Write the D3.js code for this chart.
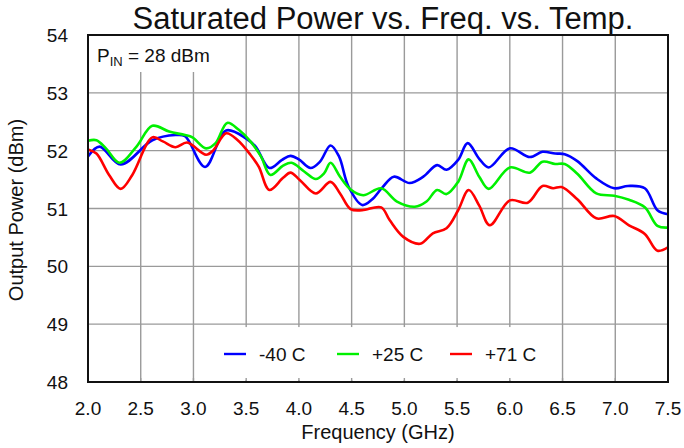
<!DOCTYPE html>
<html>
<head>
<meta charset="utf-8">
<script src="https://cdn.jsdelivr.net/npm/d3@7"></script>
<style>
  body { margin: 0; background: #fff; }
  svg text { font-family: "Liberation Sans", Arial, sans-serif; fill: #111; }
</style>
</head>
<body>
<svg id="chart" width="684" height="448"></svg>
<script>
// data
var xTicks = [2.0, 2.5, 3.0, 3.5, 4.0, 4.5, 5.0, 5.5, 6.0, 6.5, 7.0, 7.5];
var yTicks = [48, 49, 50, 51, 52, 53, 54];

var freqCold = [2.0, 2.11, 2.31, 2.61, 2.83, 2.92, 3.11, 3.31, 3.50, 3.59, 3.72, 3.84, 3.92, 4.0, 4.11, 4.20, 4.30, 4.38, 4.47, 4.60, 4.69, 4.79, 4.90, 5.05, 5.18, 5.31, 5.40, 5.51, 5.60, 5.71, 5.80, 6.0, 6.19, 6.31, 6.43, 6.52, 6.64, 6.82, 6.99, 7.12, 7.28, 7.40, 7.50];
var powerCold = [51.90, 52.07, 51.76, 52.18, 52.27, 52.25, 51.72, 52.35, 52.21, 52.07, 51.70, 51.84, 51.91, 51.85, 51.70, 51.81, 52.09, 51.90, 51.38, 51.06, 51.15, 51.36, 51.55, 51.44, 51.55, 51.75, 51.67, 51.84, 52.13, 51.86, 51.71, 52.04, 51.89, 51.98, 51.95, 51.94, 51.82, 51.52, 51.35, 51.39, 51.35, 50.97, 50.90];

var freqRoom = [2.0, 2.08, 2.17, 2.30, 2.46, 2.61, 2.77, 2.92, 2.99, 3.12, 3.21, 3.32, 3.43, 3.54, 3.64, 3.73, 3.85, 3.93, 4.05, 4.16, 4.24, 4.30, 4.39, 4.49, 4.61, 4.78, 4.93, 5.10, 5.21, 5.31, 5.40, 5.51, 5.61, 5.71, 5.80, 6.0, 6.19, 6.31, 6.43, 6.52, 6.64, 6.82, 6.99, 7.13, 7.28, 7.40, 7.50];
var powerRoom = [52.17, 52.18, 52.04, 51.79, 52.07, 52.43, 52.33, 52.27, 52.23, 52.04, 52.13, 52.48, 52.36, 52.16, 51.90, 51.58, 51.74, 51.79, 51.64, 51.51, 51.61, 51.79, 51.55, 51.33, 51.23, 51.35, 51.12, 51.03, 51.12, 51.32, 51.25, 51.46, 51.85, 51.55, 51.34, 51.71, 51.62, 51.81, 51.77, 51.77, 51.60, 51.26, 51.22, 51.15, 51.02, 50.70, 50.67];

var freqHot = [2.0, 2.08, 2.20, 2.31, 2.42, 2.61, 2.71, 2.83, 2.94, 3.12, 3.19, 3.31, 3.42, 3.54, 3.62, 3.72, 3.85, 3.92, 4.01, 4.16, 4.30, 4.39, 4.49, 4.60, 4.78, 4.86, 4.99, 5.15, 5.27, 5.40, 5.51, 5.61, 5.71, 5.81, 6.0, 6.17, 6.31, 6.41, 6.49, 6.64, 6.82, 6.99, 7.13, 7.28, 7.40, 7.50];
var powerHot = [52.02, 51.95, 51.58, 51.34, 51.58, 52.23, 52.16, 52.06, 52.14, 51.93, 52.01, 52.30, 52.18, 51.93, 51.72, 51.32, 51.53, 51.62, 51.49, 51.26, 51.46, 51.26, 50.99, 50.97, 51.02, 50.80, 50.51, 50.39, 50.57, 50.66, 50.97, 51.32, 51.05, 50.71, 51.14, 51.10, 51.39, 51.35, 51.37, 51.16, 50.83, 50.87, 50.71, 50.56, 50.27, 50.33];

var seriesNames = ["-40 C", "+25 C", "+71 C"];
var seriesColors = ["#0000ff", "#00f000", "#ff0000"];
var seriesFreq = [freqCold, freqRoom, freqHot];
var seriesPower = [powerCold, powerRoom, powerHot];

var svg = d3.select("#chart"),
    margin = {top: 35, left: 88, right: 16, bottom: 66},
    width = 684 - margin.left - margin.right,
    height = 448 - margin.top - margin.bottom,
    g = svg.append("g").attr("transform", "translate(" + margin.left + "," + margin.top + ")");

var x = d3.scaleLinear().domain([2, 7.5]).range([0, width]);
var y = d3.scaleLinear().domain([48, 54]).range([height, 0]);

// grid
g.append("g").selectAll("line").data(xTicks.slice(1, -1)).enter().append("line")
    .attr("x1", x).attr("x2", x).attr("y1", 0).attr("y2", height)
    .attr("stroke", "#9a9a9a").attr("stroke-width", 1.4);
g.append("g").selectAll("line").data(yTicks.slice(1, -1)).enter().append("line")
    .attr("y1", y).attr("y2", y).attr("x1", 0).attr("x2", width)
    .attr("stroke", "#9a9a9a").attr("stroke-width", 1.4);

// white label boxes cover the grid
g.append("rect").attr("x", 1).attr("y", 1).attr("width", 136).attr("height", 36).attr("fill", "#fff");
g.append("rect").attr("x", 108).attr("y", y(48.95)).attr("width", 362).attr("height", y(48) - y(48.95) - 2).attr("fill", "#fff");

// small inward ticks on bottom edge
g.append("g").selectAll("line").data(xTicks.slice(1, -1)).enter().append("line")
    .attr("x1", x).attr("x2", x).attr("y1", height).attr("y2", height - 4)
    .attr("stroke", "#9a9a9a").attr("stroke-width", 1.4);

// series
var line = d3.line().curve(d3.curveCatmullRom.alpha(0.5))
    .x(function(d) { return x(d[0]); })
    .y(function(d) { return y(d[1]); });

seriesNames.forEach(function(name, i) {
    var pts = seriesFreq[i].map(function(f, j) { return [f, seriesPower[i][j]]; });
    g.append("path").datum(pts)
        .attr("fill", "none")
        .attr("stroke", seriesColors[i])
        .attr("stroke-width", 2.6)
        .attr("stroke-linejoin", "round")
        .attr("d", line);
});

// frame
g.append("rect").attr("x", 0).attr("y", 0).attr("width", width).attr("height", height)
    .attr("fill", "none").attr("stroke", "#111").attr("stroke-width", 2);

// axes labels
g.append("g").selectAll("text").data(xTicks).enter().append("text")
    .attr("x", x).attr("y", height + 33)
    .attr("text-anchor", "middle").attr("font-size", 19)
    .text(function(d) { return d.toFixed(1); });
g.append("g").selectAll("text").data(yTicks).enter().append("text")
    .attr("x", -20).attr("y", function(d) { return y(d) + 7; })
    .attr("text-anchor", "end").attr("font-size", 19)
    .text(function(d) { return d; });

svg.append("text").attr("x", 378).attr("y", 439).attr("text-anchor", "middle")
    .attr("font-size", 20).text("Frequency (GHz)");
svg.append("text").attr("transform", "translate(23,210) rotate(-90)")
    .attr("text-anchor", "middle").attr("font-size", 20).text("Output Power (dBm)");
svg.append("text").attr("x", 383).attr("y", 29).attr("text-anchor", "middle")
    .attr("font-size", 31).text("Saturated Power vs. Freq. vs. Temp.");

// P_IN note
var note = g.append("text").attr("x", 9).attr("y", 27).attr("font-size", 19);
note.append("tspan").text("P");
note.append("tspan").attr("font-size", 13).attr("dy", 4).text("IN");
note.append("tspan").attr("dy", -4).text(" = 28 dBm");

// legend
var legend = g.append("g").selectAll("g").data(seriesNames).enter().append("g")
    .attr("transform", function(d, i) { return "translate(" + (136 + i * 113) + "," + (y(48) - 28) + ")"; });
legend.append("line").attr("x1", 0).attr("x2", 22)
    .attr("stroke", function(d, i) { return seriesColors[i]; }).attr("stroke-width", 2.4);
legend.append("text").attr("x", 35).attr("y", 7).attr("font-size", 19).text(function(d) { return d; });
</script>
</body>
</html>
